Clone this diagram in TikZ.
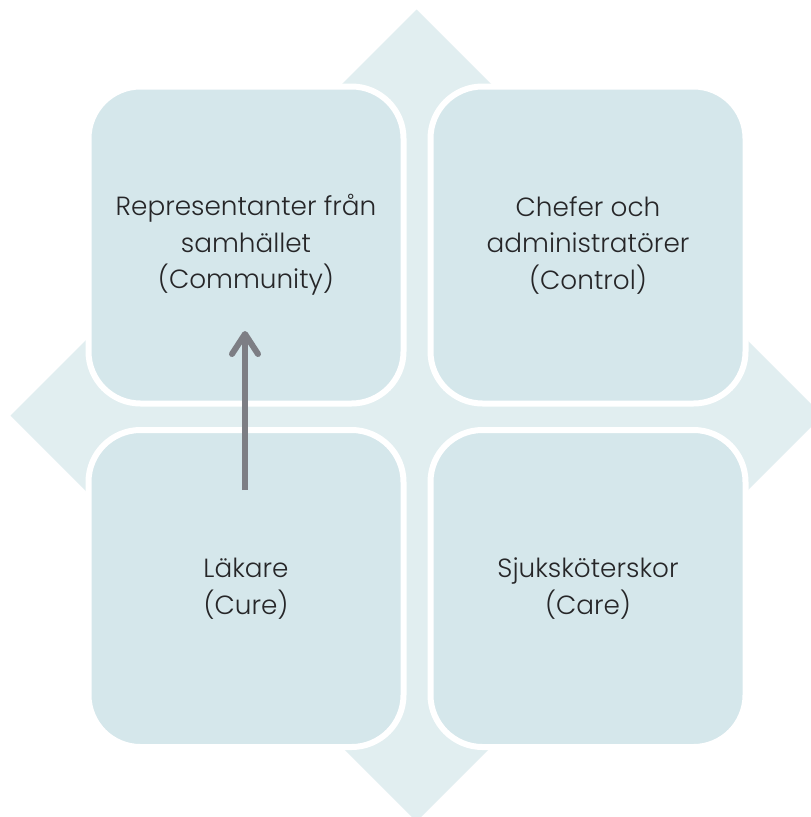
\documentclass[tikz,border=0pt]{standalone}
\usepackage{fontspec}
\setmainfont{Poppins Light}
\usetikzlibrary{arrows.meta}

\definecolor{diamondfill}{RGB}{225,238,240}
\definecolor{boxfill}{RGB}{213,231,235}
\definecolor{arrowgray}{RGB}{125,126,132}
\definecolor{labeltext}{RGB}{38,38,40}

\begin{document}
\begin{tikzpicture}[x=1pt,y=-1pt,
  quad/.style={rectangle, draw=white, line width=6pt, fill=boxfill,
    rounded corners=52pt, minimum width=315pt, minimum height=317pt,
    inner sep=0pt, align=center, text=labeltext,
    font=\fontsize{26.3}{36.5}\selectfont},
  pointer/.style={draw=arrowgray, line width=6pt,
    -{Straight Barb[round,length=20pt,width=26pt]}}
]
% canvas
\fill[white] (0,0) rectangle (811,817);
\useasboundingbox (0,0) rectangle (811,817);
\clip (0,0) rectangle (811,817);

% background diamond behind the four quadrants
\fill[diamondfill] (416.5,9.5) -- (822.5,415.5) -- (416.5,821.5) -- (10.5,415.5) -- cycle;

% the four quadrants
\node[quad] (community) at (246,245)   {Representanter från\\samhället\\(Community)};
\node[quad] (control)   at (588,245)   {Chefer och\\administratörer\\(Control)};
\node[quad] (cure)      at (246,588.5) {Läkare\\(Cure)};
\node[quad] (care)      at (588,588.5) {Sjuksköterskor\\(Care)};

% arrow from the Cure quadrant up into the Community quadrant
\coordinate (arrowtail) at (245,490);
\coordinate (arrowtip)  at (245,331);
\draw[pointer] (arrowtail) -- (arrowtip);
\end{tikzpicture}
\end{document}
